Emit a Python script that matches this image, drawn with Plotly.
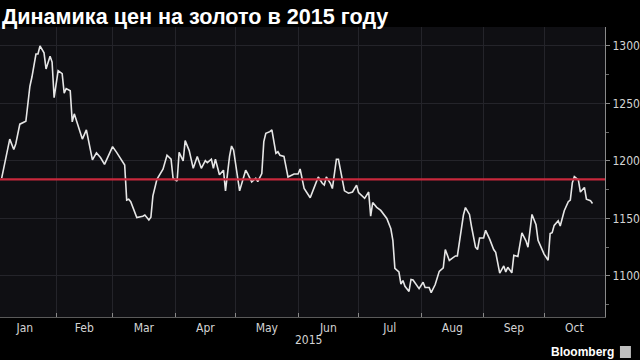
import plotly.graph_objects as go

title_text = "Динамика цен на золото в 2015 году"
year_label = "2015"
source_label = "Bloomberg"
reference_level = 1184

dates = [
    "2015-01-05", "2015-01-09", "2015-01-11", "2015-01-12", "2015-01-14", "2015-01-17",
    "2015-01-19", "2015-01-20", "2015-01-22", "2015-01-23", "2015-01-24", "2015-01-26",
    "2015-01-27", "2015-01-29", "2015-01-30", "2015-01-31", "2015-02-02", "2015-02-04",
    "2015-02-05", "2015-02-06", "2015-02-08", "2015-02-09", "2015-02-10", "2015-02-14",
    "2015-02-16", "2015-02-19", "2015-02-21", "2015-02-23", "2015-02-25", "2015-03-01",
    "2015-03-03", "2015-03-07", "2015-03-08", "2015-03-09", "2015-03-10", "2015-03-13",
    "2015-03-16", "2015-03-17", "2015-03-19", "2015-03-20", "2015-03-21", "2015-03-23",
    "2015-03-26", "2015-03-28", "2015-03-30", "2015-03-31", "2015-04-02", "2015-04-03",
    "2015-04-05", "2015-04-06", "2015-04-08", "2015-04-10", "2015-04-12", "2015-04-14",
    "2015-04-16", "2015-04-17", "2015-04-19", "2015-04-20", "2015-04-21", "2015-04-23",
    "2015-04-25", "2015-04-26", "2015-04-28", "2015-04-29", "2015-04-30", "2015-05-02",
    "2015-05-03", "2015-05-06", "2015-05-07", "2015-05-09", "2015-05-11", "2015-05-12",
    "2015-05-14", "2015-05-15", "2015-05-16", "2015-05-18", "2015-05-19", "2015-05-21",
    "2015-05-22", "2015-05-23", "2015-05-25", "2015-05-27", "2015-05-28", "2015-05-30",
    "2015-06-01", "2015-06-02", "2015-06-04", "2015-06-07", "2015-06-09", "2015-06-11",
    "2015-06-13", "2015-06-14", "2015-06-15", "2015-06-17", "2015-06-18", "2015-06-20",
    "2015-06-21", "2015-06-23", "2015-06-24", "2015-06-26", "2015-06-28", "2015-06-30",
    "2015-07-01", "2015-07-04", "2015-07-06", "2015-07-07", "2015-07-08", "2015-07-10",
    "2015-07-12", "2015-07-15", "2015-07-17", "2015-07-18", "2015-07-19", "2015-07-21",
    "2015-07-22", "2015-07-23", "2015-07-24", "2015-07-26", "2015-07-27", "2015-07-28",
    "2015-07-31", "2015-08-02", "2015-08-03", "2015-08-05", "2015-08-06", "2015-08-08",
    "2015-08-10", "2015-08-12", "2015-08-13", "2015-08-15", "2015-08-18", "2015-08-19",
    "2015-08-20", "2015-08-22", "2015-08-23", "2015-08-25", "2015-08-26", "2015-08-28",
    "2015-08-29", "2015-08-30", "2015-09-01", "2015-09-02", "2015-09-04", "2015-09-06",
    "2015-09-07", "2015-09-09", "2015-09-11", "2015-09-12", "2015-09-13", "2015-09-15",
    "2015-09-16", "2015-09-18", "2015-09-20", "2015-09-22", "2015-09-23", "2015-09-25",
    "2015-09-27", "2015-09-28", "2015-10-01", "2015-10-03", "2015-10-04", "2015-10-05",
    "2015-10-06", "2015-10-08", "2015-10-09", "2015-10-11", "2015-10-13", "2015-10-14",
    "2015-10-15", "2015-10-16", "2015-10-18", "2015-10-19", "2015-10-21", "2015-10-22",
    "2015-10-24", "2015-10-25",
]

prices = [
    1185, 1219, 1210, 1215, 1232, 1234.5,
    1265, 1273, 1293, 1293, 1300, 1294,
    1280, 1291, 1286, 1255, 1278.5, 1276,
    1259, 1263, 1261, 1234, 1241, 1219,
    1227, 1201, 1207, 1203, 1197, 1212.5,
    1207.5, 1196.5, 1166, 1166.7, 1164.6, 1150.7,
    1152, 1153, 1148.7, 1151, 1169.6, 1184,
    1192.8, 1205, 1201.5, 1185, 1182.6, 1207.5,
    1200, 1217.7, 1209, 1193.6, 1203.8, 1193.6,
    1200.3, 1198.5, 1201.5, 1193.6, 1201.5, 1188,
    1192, 1174, 1204, 1213, 1209.6, 1183.5,
    1174, 1192, 1189, 1181.7, 1185, 1182,
    1189, 1216.8, 1224, 1225.5, 1227, 1206.7,
    1208, 1205, 1204, 1186, 1187, 1188.7,
    1188.7, 1193, 1176, 1168, 1177, 1186,
    1180.6, 1179, 1186, 1180.6, 1176, 1201.5,
    1201.5, 1182, 1174, 1172, 1173, 1179,
    1172.5, 1167.5, 1173, 1152, 1163.8, 1159.7,
    1157, 1150, 1141, 1131, 1106.7, 1103.5,
    1093, 1096, 1091, 1086.5, 1097, 1096.5,
    1089, 1094.5, 1090, 1090, 1085.5, 1092.5,
    1104, 1107, 1123, 1113.5, 1117.4, 1117.4,
    1128, 1153, 1159.5, 1153.5, 1143, 1125,
    1123, 1133, 1133, 1139.7, 1132, 1123,
    1120.5, 1102.5, 1108.7, 1103.5, 1107.6, 1102.7,
    1118, 1117, 1137.5, 1130.5, 1125, 1153.5,
    1144.5, 1131, 1119, 1113.7, 1136.8, 1137.7,
    1144, 1148, 1143.5, 1156.7, 1164.6, 1166,
    1181, 1186.3, 1183.5, 1173, 1177, 1166.7,
    1165.5, 1163,
]

y_ticks = [1100, 1150, 1200, 1250, 1300]

fig = go.Figure()
fig.add_trace(go.Scatter(
    x=dates, y=prices, mode="lines",
    line=dict(color="#e6e6e6", width=1.6),
    hoverinfo="skip", showlegend=False,
))

tick_font = dict(family="Liberation Sans Narrow, DejaVu Sans Condensed, Liberation Sans, Arial",
                 size=12, color="#d4d4d4")

fig.update_layout(
    width=640, height=360,
    margin=dict(l=0, r=33, t=27, b=43),
    paper_bgcolor="#000000",
    plot_bgcolor="#0f0f13",
    title=dict(text="<b>" + title_text + "</b>", x=0.003, xanchor="left", y=0.953, yanchor="middle",
               font=dict(family="Liberation Sans, Arial", size=21.6, color="#ffffff")),
    xaxis=dict(
        type="date",
        range=["2015-01-04 04:00", "2015-10-31 05:00"],
        dtick="M1", tick0="2015-01-01",
        ticklabelmode="period", tickformat="%b",
        ticks="inside", ticklen=4, tickcolor="#8a8a8a",
        showgrid=True, gridcolor="#24242a", gridwidth=1,
        showline=True, linecolor="#5a5a5a", linewidth=1,
        tickfont=tick_font, zeroline=False,
    ),
    yaxis=dict(
        side="right",
        range=[1064.3, 1316.5],
        tickvals=y_ticks,
        ticks="outside", ticklen=4, tickcolor="#8a8a8a",
        minor=dict(ticks="outside", ticklen=3, tickcolor="#6a6a6a", dtick=25, tick0=1075, showgrid=False),
        showgrid=True, gridcolor="#24242a", gridwidth=1,
        showline=True, linecolor="#8a8a8a", linewidth=1,
        tickfont=tick_font, zeroline=False,
    ),
    annotations=[
        dict(text=year_label, xref="paper", yref="paper", x=310 / 607, y=-23 / 290,
             xanchor="center", yanchor="middle", showarrow=False, font=tick_font),
        dict(text="<b>" + source_label + "</b>", xref="paper", yref="paper", x=618 / 607, y=-35 / 290,
             xanchor="right", yanchor="middle", showarrow=False,
             font=dict(family="Liberation Sans, Arial", size=12, color="#ffffff")),
    ],
)

fig.add_shape(type="rect", xref="paper", yref="paper", x0=622 / 607, x1=633 / 607,
              y0=-41 / 290, y1=-29 / 290, fillcolor="#bfbfbf", line=dict(width=0))
fig.add_hline(y=reference_level, line=dict(color="#c8283c", width=2.2), layer="above")

fig.write_html("out.html")
